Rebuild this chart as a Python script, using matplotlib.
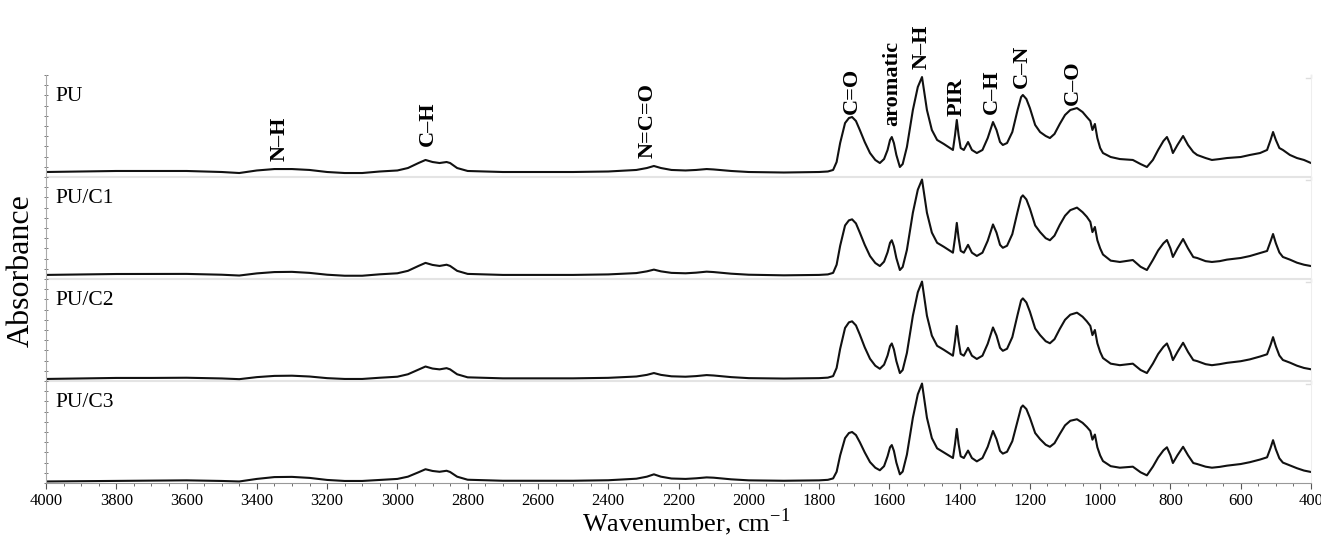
import matplotlib
matplotlib.use('Agg')
import matplotlib.pyplot as plt
from matplotlib.ticker import MultipleLocator

plt.rcParams['font.family'] = ['Liberation Serif', 'DejaVu Serif']
plt.rcParams['mathtext.fontset'] = 'custom'
plt.rcParams['mathtext.rm'] = 'Liberation Serif'

# Shared wavenumber grid (cm-1)
wavenumber = [4000, 3900, 3800, 3700, 3600, 3500, 3450, 3400, 3350, 3300, 3250, 3200, 3150, 3100,
              3050, 3000, 2970, 2940, 2920, 2900, 2880, 2860, 2850, 2830, 2800, 2700, 2600, 2500,
              2400, 2320, 2290, 2270, 2250, 2220, 2180, 2150, 2120, 2100, 2050, 2000, 1900, 1800,
              1775, 1760, 1750, 1740, 1726, 1715, 1706, 1695, 1684, 1670, 1655, 1640, 1627, 1615,
              1605, 1598, 1593, 1587, 1580, 1570, 1562, 1550, 1533, 1519, 1507, 1493, 1479, 1464,
              1445, 1427, 1419, 1413, 1408, 1403, 1397, 1388, 1376, 1365, 1351, 1335, 1320, 1305,
              1295, 1285, 1277, 1265, 1250, 1235, 1225, 1220, 1210, 1200, 1185, 1171, 1155, 1143,
              1130, 1115, 1100, 1085, 1066, 1050, 1038, 1028, 1022, 1015, 1008, 1000, 992, 970,
              944, 907, 885, 867, 850, 835, 820, 810, 800, 793, 780, 764, 750, 735,
              724, 700, 682, 660, 639, 600, 574, 545, 525, 515, 508, 500, 490, 480,
              460, 440, 420, 400]

# Absorbance, normalised to the height of one panel
pu = [0.049, 0.054, 0.059, 0.059, 0.059, 0.049, 0.039, 0.064, 0.078, 0.078, 0.069, 0.049, 0.039, 0.039,
      0.054, 0.064, 0.088, 0.137, 0.167, 0.147, 0.137, 0.147, 0.137, 0.088, 0.059, 0.049, 0.049, 0.049,
      0.054, 0.069, 0.088, 0.108, 0.088, 0.069, 0.064, 0.069, 0.078, 0.074, 0.059, 0.049, 0.044, 0.049,
      0.054, 0.069, 0.147, 0.333, 0.529, 0.578, 0.588, 0.549, 0.461, 0.343, 0.235, 0.167, 0.137, 0.176,
      0.265, 0.363, 0.392, 0.333, 0.216, 0.098, 0.127, 0.294, 0.657, 0.882, 0.980, 0.657, 0.461, 0.363,
      0.324, 0.284, 0.265, 0.412, 0.559, 0.412, 0.284, 0.265, 0.343, 0.265, 0.235, 0.265, 0.382, 0.539,
      0.461, 0.343, 0.314, 0.333, 0.441, 0.657, 0.784, 0.804, 0.765, 0.676, 0.510, 0.441, 0.402, 0.382,
      0.422, 0.520, 0.608, 0.657, 0.676, 0.637, 0.588, 0.549, 0.461, 0.520, 0.382, 0.284, 0.235, 0.196,
      0.176, 0.167, 0.127, 0.098, 0.167, 0.265, 0.353, 0.392, 0.314, 0.235, 0.314, 0.402, 0.314, 0.245,
      0.216, 0.186, 0.167, 0.176, 0.186, 0.196, 0.216, 0.235, 0.265, 0.363, 0.441, 0.363, 0.284, 0.265,
      0.216, 0.186, 0.167, 0.137]

pu_c1 = [0.040, 0.045, 0.049, 0.049, 0.050, 0.042, 0.034, 0.055, 0.068, 0.070, 0.060, 0.042, 0.032, 0.032,
         0.046, 0.056, 0.080, 0.128, 0.158, 0.138, 0.128, 0.140, 0.128, 0.080, 0.050, 0.040, 0.040, 0.040,
         0.045, 0.058, 0.075, 0.092, 0.075, 0.060, 0.056, 0.062, 0.072, 0.068, 0.052, 0.042, 0.036, 0.040,
         0.045, 0.060, 0.140, 0.325, 0.525, 0.575, 0.585, 0.545, 0.455, 0.335, 0.225, 0.157, 0.127, 0.170,
         0.262, 0.355, 0.380, 0.320, 0.205, 0.088, 0.118, 0.285, 0.650, 0.875, 0.975, 0.650, 0.455, 0.355,
         0.316, 0.276, 0.258, 0.405, 0.550, 0.405, 0.276, 0.258, 0.335, 0.258, 0.226, 0.258, 0.375, 0.535,
         0.455, 0.335, 0.306, 0.326, 0.440, 0.660, 0.800, 0.820, 0.780, 0.690, 0.525, 0.460, 0.400, 0.380,
         0.425, 0.530, 0.620, 0.675, 0.700, 0.655, 0.610, 0.560, 0.460, 0.510, 0.380, 0.300, 0.240, 0.180,
         0.167, 0.186, 0.120, 0.088, 0.186, 0.280, 0.350, 0.382, 0.300, 0.216, 0.300, 0.392, 0.300, 0.215,
         0.206, 0.175, 0.167, 0.175, 0.190, 0.206, 0.225, 0.255, 0.275, 0.370, 0.441, 0.350, 0.260, 0.216,
         0.190, 0.160, 0.140, 0.127]

pu_c2 = [0.020, 0.025, 0.030, 0.030, 0.032, 0.025, 0.018, 0.038, 0.050, 0.052, 0.044, 0.028, 0.020, 0.020,
         0.032, 0.042, 0.066, 0.112, 0.142, 0.122, 0.114, 0.126, 0.114, 0.066, 0.036, 0.026, 0.026, 0.026,
         0.031, 0.044, 0.060, 0.078, 0.060, 0.046, 0.042, 0.048, 0.058, 0.054, 0.038, 0.028, 0.024, 0.028,
         0.033, 0.048, 0.128, 0.315, 0.520, 0.575, 0.585, 0.545, 0.455, 0.330, 0.218, 0.150, 0.120, 0.160,
         0.250, 0.342, 0.368, 0.310, 0.195, 0.078, 0.108, 0.275, 0.640, 0.870, 0.975, 0.640, 0.445, 0.345,
         0.306, 0.266, 0.248, 0.395, 0.540, 0.395, 0.266, 0.248, 0.325, 0.248, 0.216, 0.248, 0.365, 0.525,
         0.445, 0.325, 0.296, 0.316, 0.430, 0.650, 0.790, 0.810, 0.770, 0.680, 0.515, 0.450, 0.390, 0.370,
         0.410, 0.510, 0.600, 0.650, 0.670, 0.630, 0.585, 0.540, 0.450, 0.500, 0.370, 0.285, 0.225, 0.170,
         0.155, 0.170, 0.108, 0.078, 0.170, 0.265, 0.335, 0.368, 0.285, 0.205, 0.285, 0.375, 0.285, 0.205,
         0.195, 0.165, 0.155, 0.165, 0.178, 0.194, 0.212, 0.240, 0.262, 0.355, 0.430, 0.340, 0.250, 0.206,
         0.180, 0.150, 0.128, 0.115]

pu_c3 = [0.015, 0.018, 0.022, 0.024, 0.026, 0.020, 0.015, 0.040, 0.058, 0.060, 0.050, 0.030, 0.020, 0.020,
         0.030, 0.040, 0.062, 0.105, 0.135, 0.118, 0.110, 0.120, 0.108, 0.062, 0.032, 0.022, 0.022, 0.022,
         0.027, 0.042, 0.062, 0.085, 0.062, 0.044, 0.040, 0.046, 0.055, 0.052, 0.036, 0.026, 0.022, 0.026,
         0.031, 0.045, 0.110, 0.270, 0.440, 0.490, 0.500, 0.470, 0.400, 0.300, 0.205, 0.150, 0.125, 0.165,
         0.262, 0.350, 0.372, 0.315, 0.200, 0.085, 0.112, 0.278, 0.640, 0.870, 0.975, 0.640, 0.440, 0.340,
         0.300, 0.262, 0.245, 0.385, 0.530, 0.385, 0.262, 0.245, 0.318, 0.245, 0.212, 0.245, 0.355, 0.510,
         0.430, 0.315, 0.288, 0.306, 0.410, 0.610, 0.740, 0.760, 0.725, 0.640, 0.490, 0.430, 0.375, 0.355,
         0.390, 0.480, 0.565, 0.610, 0.625, 0.590, 0.550, 0.510, 0.425, 0.475, 0.350, 0.270, 0.215, 0.165,
         0.150, 0.160, 0.105, 0.075, 0.160, 0.250, 0.320, 0.350, 0.272, 0.196, 0.272, 0.355, 0.272, 0.196,
         0.186, 0.160, 0.150, 0.158, 0.170, 0.186, 0.204, 0.230, 0.252, 0.345, 0.420, 0.330, 0.242, 0.200,
         0.172, 0.145, 0.122, 0.108]

samples = ['PU', 'PU/C1', 'PU/C2', 'PU/C3']
spectra = [pu, pu_c1, pu_c2, pu_c3]

# Band assignments drawn above the PU trace: (label, wavenumber, bottom in PU panel units)
band_labels = ['N–H', 'C–H', 'N=C=O', 'C=O', 'aromatic', 'N–H', 'PIR', 'C–H', 'C–N', 'C–O']
band_pos = [3334, 2913, 2287, 1706, 1593, 1507, 1408, 1308, 1222, 1077]
band_bottom = [0.16, 0.30, 0.19, 0.62, 0.50, 1.06, 0.60, 0.62, 0.87, 0.71]

fig = plt.figure(figsize=(13.21, 5.37), dpi=100)
ax = fig.add_axes([46 / 1321, 54 / 537, 1265 / 1321, 408 / 537])

n = len(samples)
for i, (name, spec) in enumerate(zip(samples, spectra)):
    offset = n - 1 - i
    ax.plot(wavenumber, [v + offset for v in spec], color='#111111', lw=1.5)
    ax.text(3972, offset + 0.79, name, fontsize=15.5, va='center', ha='left')
    if offset > 0:
        ax.axhline(offset, color='#e4e4e4', lw=1.5, zorder=0)
    # little corner marks at the top right of each panel
    ax.plot([415, 400, 400], [offset + 0.97, offset + 0.97, offset + 1.0],
            color='#dddddd', lw=1, clip_on=False)

for lab, pos, yb in zip(band_labels, band_pos, band_bottom):
    ax.text(pos, n - 1 + yb, lab, rotation=90, ha='center', va='bottom',
            fontsize=16, fontweight='bold', clip_on=False)

ax.set_xlim(4000, 400)
ax.set_ylim(0, n)
ax.xaxis.set_major_locator(MultipleLocator(200))
ax.xaxis.set_minor_locator(MultipleLocator(50))
ax.yaxis.set_major_locator(MultipleLocator(0.1))
ax.set_yticklabels([])
ax.tick_params(axis='x', which='major', direction='out', length=4, width=0.8,
               color='#555555', labelsize=12, pad=3)
ax.tick_params(axis='x', which='minor', direction='out', length=2.5, width=0.6, color='#555555')
ax.tick_params(axis='y', which='major', direction='inout', length=3, width=0.6,
               color='#666666', left=True)

ax.spines['top'].set_visible(False)
ax.spines['right'].set_color('#eeeeee')
ax.spines['left'].set_color('#aaaaaa')
ax.spines['bottom'].set_color('#999999')

ax.set_xlabel('Wavenumber, cm$^{-1}$', fontsize=19)
ax.xaxis.set_label_coords(0.506, -0.057)
ax.set_ylabel('Absorbance', fontsize=23)
ax.yaxis.set_label_coords(-0.008, 0.52)

fig.savefig('out.png', dpi=100)
